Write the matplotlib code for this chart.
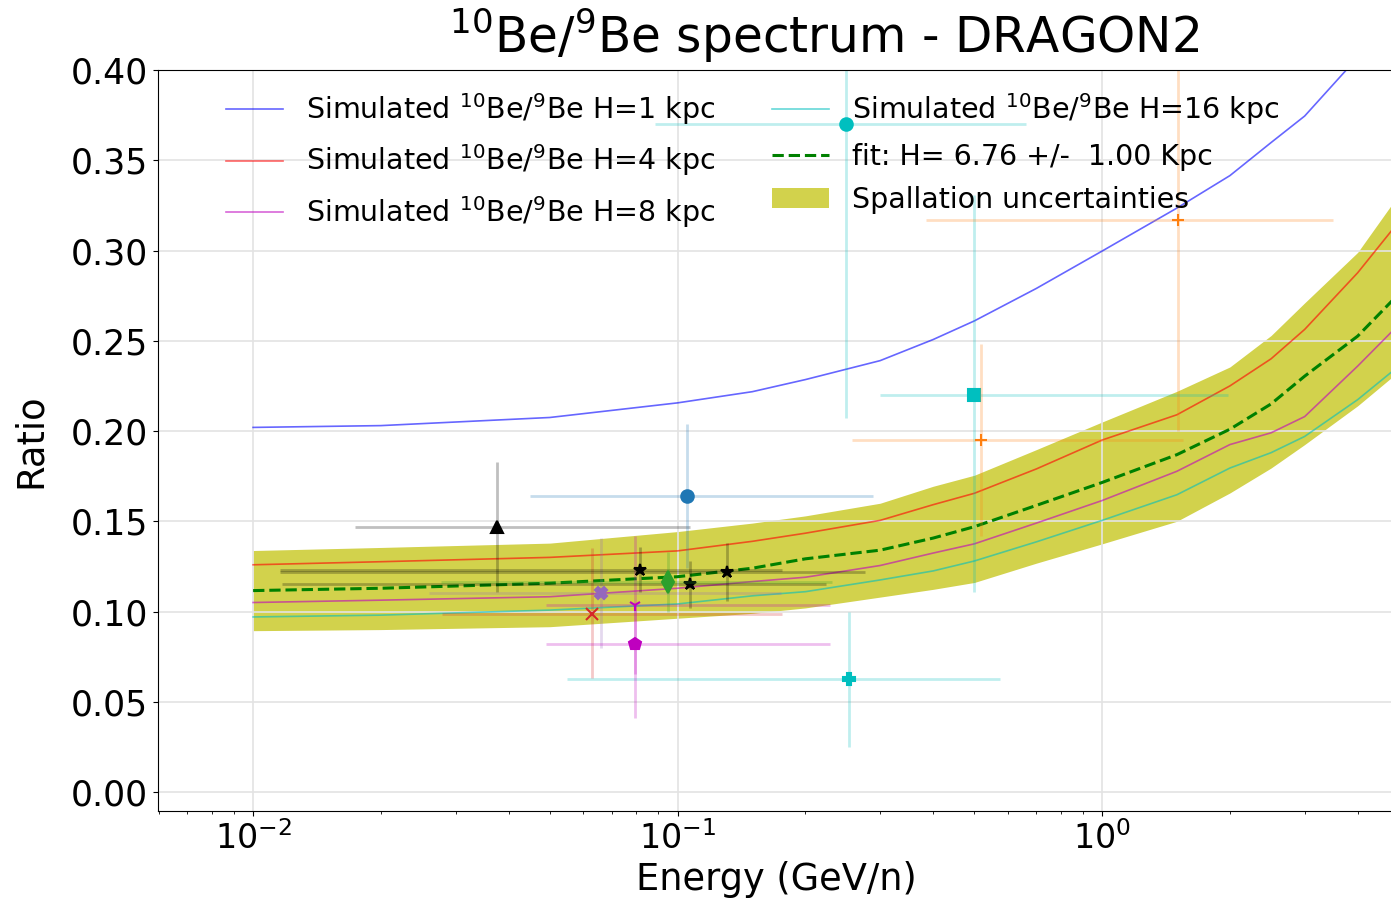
import numpy as np
import matplotlib.pyplot as plt

# simulated 10Be/9Be ratio vs kinetic energy per nucleon (GeV/n)
energy = [0.01, 0.02, 0.05, 0.1, 0.15, 0.2, 0.3, 0.4, 0.5, 0.7, 1.0, 1.5, 2.0, 2.5, 3.0, 4.0, 5.0]
ratio_H1 = [0.202, 0.203, 0.2075, 0.2156, 0.2218, 0.2285, 0.239, 0.2507, 0.261, 0.279, 0.2997, 0.3235, 0.3415, 0.3598, 0.3745, 0.407, 0.43]
ratio_H4 = [0.1259, 0.1276, 0.130, 0.1336, 0.1389, 0.1434, 0.1505, 0.1592, 0.1655, 0.179, 0.195, 0.209, 0.225, 0.240, 0.2563, 0.2877, 0.316]
ratio_H8 = [0.1050, 0.1063, 0.1082, 0.1129, 0.1166, 0.119, 0.1255, 0.1324, 0.1375, 0.149, 0.1615, 0.1777, 0.1925, 0.199, 0.208, 0.236, 0.259]
ratio_H16 = [0.0970, 0.098, 0.1008, 0.1042, 0.1087, 0.111, 0.1175, 0.1225, 0.128, 0.1386, 0.1505, 0.1647, 0.1795, 0.188, 0.197, 0.2174, 0.236]
ratio_fit = [0.1116, 0.1129, 0.1157, 0.1193, 0.124, 0.1292, 0.134, 0.1407, 0.147, 0.1588, 0.1715, 0.1869, 0.201, 0.215, 0.2304, 0.2526, 0.276]
band_low = [0.0894, 0.090, 0.0916, 0.0963, 0.099, 0.102, 0.108, 0.1123, 0.1161, 0.1268, 0.1375, 0.150, 0.1657, 0.1795, 0.1925, 0.214, 0.233]
band_high = [0.1338, 0.1355, 0.1379, 0.1443, 0.149, 0.153, 0.160, 0.1694, 0.1755, 0.1897, 0.205, 0.222, 0.2355, 0.2529, 0.271, 0.299, 0.331]

fit_H = 6.76
fit_dH = 1.00

# experimental data: energy, ratio and the ranges of the error bars
exp_E = [0.0375, 0.105, 0.249, 0.498, 0.254, 1.507, 0.518, 0.0627, 0.0659, 0.0792, 0.0792, 0.0814, 0.1067, 0.1304, 0.0947]
exp_R = [0.147, 0.164, 0.370, 0.2197, 0.0626, 0.317, 0.195, 0.0987, 0.1103, 0.1036, 0.082, 0.123, 0.1153, 0.1219, 0.1164]
exp_Emin = [0.0174, 0.0448, 0.0883, 0.299, 0.0548, 0.384, 0.257, 0.0279, 0.026, 0.049, 0.049, 0.0116, 0.0117, 0.0116, 0.0277]
exp_Emax = [0.1067, 0.288, 0.66, 1.98, 0.576, 3.5, 1.55, 0.176, 0.175, 0.228, 0.228, 0.176, 0.224, 0.276, 0.231]
exp_Rmin = [0.111, 0.124, 0.207, 0.111, 0.0249, 0.200, 0.142, 0.063, 0.080, 0.0656, 0.041, 0.111, 0.102, 0.106, 0.0999]
exp_Rmax = [0.1826, 0.204, 0.533, 0.331, 0.0997, 0.434, 0.248, 0.135, 0.141, 0.1416, 0.104, 0.136, 0.128, 0.138, 0.133]

markers = ['^', 'o', 'o', 's', 'P', '+', '+', 'x', 'X', '1', 'p', '*', '*', '*', 'd']
colors = ['k', 'C0', 'c', 'c', 'c', 'C1', 'C1', 'C3', 'C4', 'm', 'm', 'k', 'k', 'k', 'C2']

fig = plt.figure(figsize=(13.91, 9.01), dpi=100)
ax = fig.add_axes([158/1391, 90/901, 1236/1391, 741/901])

ax.fill_between(energy, band_low, band_high, color='y', alpha=0.7, lw=0, label='Spallation uncertainties')
ax.plot(energy, ratio_H1, color='blue', alpha=0.6, lw=1.2, label='Simulated $^{10}$Be/$^{9}$Be H=1 kpc')
ax.plot(energy, ratio_H4, color='red', alpha=0.6, lw=1.2, label='Simulated $^{10}$Be/$^{9}$Be H=4 kpc')
ax.plot(energy, ratio_H8, color='m', alpha=0.6, lw=1.2, label='Simulated $^{10}$Be/$^{9}$Be H=8 kpc')
ax.plot(energy, ratio_H16, color='c', alpha=0.6, lw=1.2, label='Simulated $^{10}$Be/$^{9}$Be H=16 kpc')
ax.plot(energy, ratio_fit, 'g--', lw=2.2, label='fit: H= %.2f +/-  %.2f Kpc' % (fit_H, fit_dH))

for i in range(len(exp_E)):
    xe = [[exp_E[i] - exp_Emin[i]], [exp_Emax[i] - exp_E[i]]]
    ye = [[exp_R[i] - exp_Rmin[i]], [exp_Rmax[i] - exp_R[i]]]
    ax.errorbar(exp_E[i], exp_R[i], xerr=xe, yerr=ye, fmt='none', ecolor=colors[i], elinewidth=2, alpha=0.25)
    ms = 11 if markers[i] == 'd' else 9
    ax.plot(exp_E[i], exp_R[i], marker=markers[i], color=colors[i], ls='none', ms=ms, mew=1.5)

ax.set_xscale('log')
ax.set_xlim(0.00597, 4.87)
ax.set_ylim(-0.0105, 0.40)
ax.set_yticks(np.arange(0, 0.401, 0.05))
ax.grid(True, which='major', color='#e3e3e3', lw=1.2)
ax.set_axisbelow('line')
ax.tick_params(axis='x', labelsize=24)
ax.tick_params(axis='y', labelsize=25)

ax.set_xlabel('Energy (GeV/n)', fontsize=26.5)
ax.set_ylabel('Ratio', fontsize=26.5, labelpad=16)
ax.set_title('$^{10}$Be/$^{9}$Be spectrum - DRAGON2', fontsize=35, x=(824-158)/1236, pad=12)

h, l = ax.get_legend_handles_labels()
order = [1, 2, 3, 4, 5, 0]
ax.legend([h[k] for k in order], [l[k] for k in order], ncol=2, frameon=False, fontsize=20.5,
          labelspacing=0.55, loc='upper left', bbox_to_anchor=(0.046, 0.987), borderaxespad=0)

fig.savefig('out.png', dpi=100)
